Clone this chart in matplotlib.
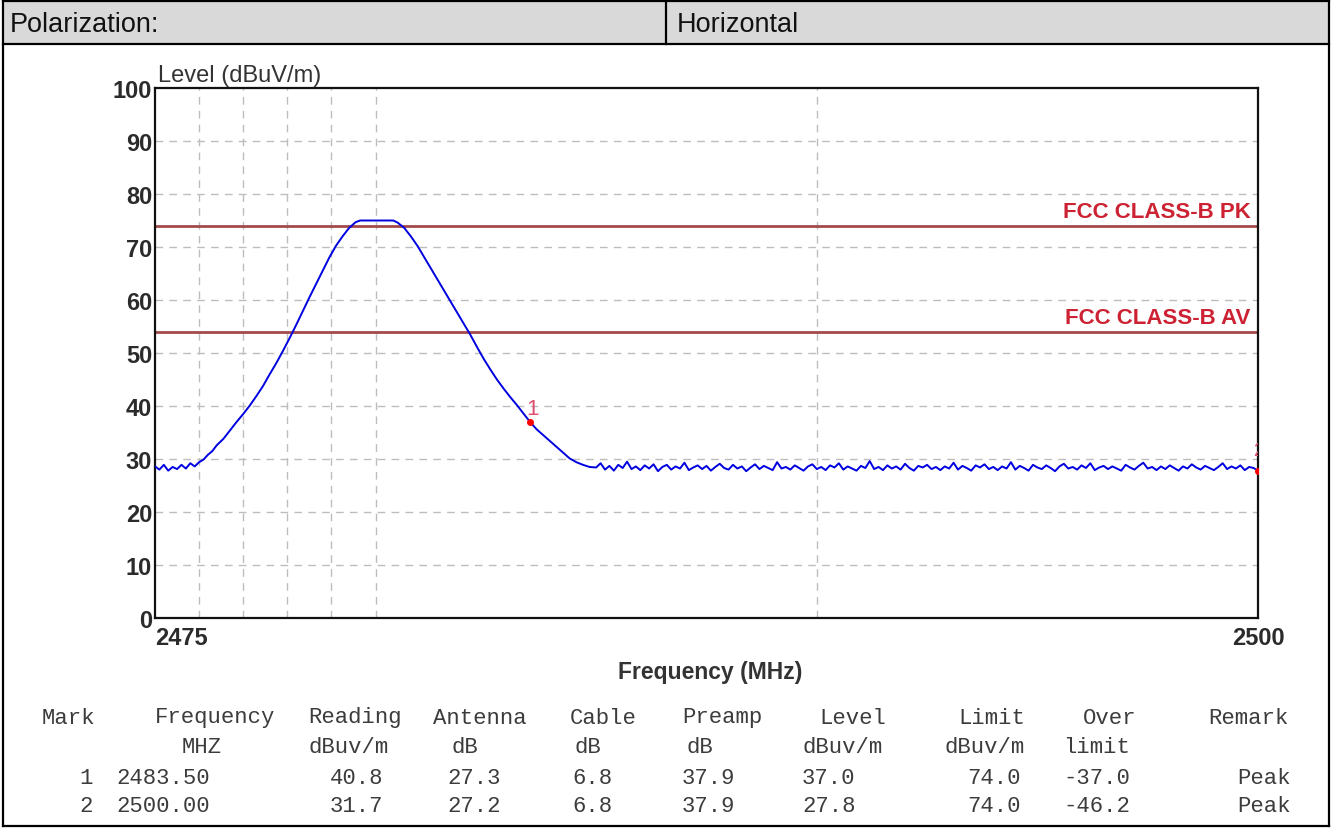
"""Radiated emission plot (band edge, horizontal polarization) with marker table."""

import matplotlib

matplotlib.use("Agg")
import matplotlib.pyplot as plt
import numpy as np
from matplotlib.lines import Line2D
from matplotlib.patches import Rectangle

# --- data ------------------------------------------------------------------
# sweep across the carrier (MHz, dBuV/m)
edge_freq = [
    2475.0, 2475.1, 2475.2, 2475.3, 2475.4, 2475.5, 2475.6, 2475.7, 2475.8, 2475.9,
    2476.0, 2476.1, 2476.2, 2476.3, 2476.4, 2476.55, 2476.7, 2476.85, 2477.0, 2477.15,
    2477.3, 2477.45, 2477.6, 2477.75, 2477.9, 2478.05, 2478.2, 2478.35, 2478.5, 2478.65,
    2478.8, 2478.95, 2479.1, 2479.25, 2479.4, 2479.55, 2479.65, 2480.0, 2480.4, 2480.5,
    2480.65, 2480.8, 2480.95, 2481.1, 2481.25, 2481.4, 2481.55, 2481.7, 2481.85, 2482.0,
    2482.15, 2482.3, 2482.45, 2482.6, 2482.75, 2482.9, 2483.05, 2483.2, 2483.35, 2483.5,
    2483.65, 2483.8, 2483.95, 2484.1, 2484.25, 2484.4, 2484.55, 2484.7, 2484.85,
]
edge_level = [
    28.6, 28.0, 28.9, 27.8, 28.5, 28.1, 28.9, 28.2, 29.2, 28.6,
    29.4, 29.9, 30.8, 31.5, 32.6, 33.8, 35.4, 37.0, 38.5, 40.1,
    41.9, 43.8, 46.0, 48.1, 50.4, 52.8, 55.3, 57.9, 60.5, 63.0,
    65.5, 68.0, 70.2, 72.0, 73.6, 74.7, 75.0, 75.0, 75.0, 74.6,
    73.6, 72.0, 70.2, 68.1, 66.0, 63.9, 61.8, 59.7, 57.6, 55.5,
    53.4, 51.1, 48.9, 46.9, 45.0, 43.3, 41.7, 40.2, 38.6, 37.0,
    35.6, 34.5, 33.4, 32.3, 31.2, 30.1, 29.4, 28.9, 28.5,
]
# noise floor from 2485 MHz to 2500 MHz, 0.1 MHz steps
floor_level = [
    28.4, 29.2, 28.0, 28.7, 27.8, 28.9, 28.3, 29.5, 28.1, 28.6,
    27.9, 28.8, 28.2, 29.0, 27.7, 28.5, 28.9, 28.0, 28.6, 28.2,
    29.3, 27.9, 28.4, 28.8, 28.1, 28.7, 27.8, 28.5, 29.1, 28.3,
    28.0, 28.9, 28.2, 28.6, 27.7, 28.4, 29.0, 28.1, 28.7, 28.3,
    27.9, 29.4, 28.2, 28.5, 28.0, 28.8, 28.3, 27.8, 28.6, 29.0,
    28.1, 28.5, 27.9, 28.8, 28.4, 29.2, 28.0, 28.6, 28.2, 27.8,
    28.7, 28.3, 29.6, 28.1, 28.5, 27.9, 28.8, 28.2, 28.6, 28.0,
    29.1, 28.3, 27.8, 28.7, 28.4, 28.9, 28.1, 28.5, 27.9, 28.6,
    28.2, 29.3, 28.0, 28.7, 28.3, 27.8, 28.8, 28.4, 29.0, 28.1,
    28.5, 27.9, 28.6, 28.2, 29.4, 28.0, 28.7, 28.3, 27.8, 28.9,
    28.4, 28.1, 28.8, 28.3, 27.7, 28.6, 29.1, 28.2, 28.5, 28.0,
    28.8, 28.3, 29.2, 27.9, 28.4, 28.7, 28.1, 28.6, 28.2, 27.8,
    28.9, 28.4, 28.0, 28.7, 29.3, 28.2, 28.5, 27.9, 28.6, 28.1,
    28.8, 28.3, 27.8, 28.6, 28.2, 29.0, 28.4, 28.0, 28.7, 28.3,
    27.9, 28.5, 29.2, 28.1, 28.6, 28.2, 28.8, 27.9, 28.5, 28.3,
    27.8,
]
floor_freq = np.round(2485.0 + 0.1 * np.arange(len(floor_level)), 1)

limit_pk = 74.0
limit_av = 54.0
limit_names = ["FCC CLASS-B PK", "FCC CLASS-B AV"]

mark_ids = ["1", "2"]
mark_freq = [2483.50, 2500.00]
mark_level = [37.0, 27.8]

grid_freq = [2476, 2477, 2478, 2479, 2480, 2490]
grid_level = [10, 20, 30, 40, 50, 60, 70, 80, 90]

table_head = ["Mark", "Frequency", "Reading", "Antenna", "Cable",
              "Preamp", "Level", "Limit", "Over", "Remark"]
table_units = ["", "MHZ", "dBuv/m", "dB", "dB", "dB", "dBuv/m", "dBuv/m", "limit", ""]
reading = ["40.8", "31.7"]
antenna = ["27.3", "27.2"]
cable = ["6.8", "6.8"]
preamp = ["37.9", "37.9"]
level = ["37.0", "27.8"]
limit = ["74.0", "74.0"]
over = ["-37.0", "-46.2"]
remark = ["Peak", "Peak"]

# --- figure ----------------------------------------------------------------
W, H = 1333, 829
fig = plt.figure(figsize=(W / 100, H / 100), dpi=100)


def fx(x):
    return x / W


def fy(y):
    return 1 - y / H


# header band and frame
fig.patches.append(Rectangle((fx(3), fy(45)), fx(1329) - fx(3), fy(2) - fy(45),
                             transform=fig.transFigure, facecolor="#d9d9d9",
                             edgecolor="none", zorder=0))
for x0, y0, x1, y1 in [(3, 2, 1329, 2), (3, 45, 1329, 45), (3, 827, 1329, 827),
                       (3, 2, 3, 827), (1329, 2, 1329, 827), (666, 2, 666, 45)]:
    fig.add_artist(Line2D([fx(x0), fx(x1)], [fy(y0), fy(y1)], color="black",
                          lw=1.6, transform=fig.transFigure))

hdr_font = dict(family="Liberation Sans", fontsize=19.5, color="#111111", va="center")
fig.text(fx(10), fy(25), "Polarization:", **hdr_font)
fig.text(fx(677), fy(25), "Horizontal", **hdr_font)

# plot area
ax = fig.add_axes([fx(155), fy(619), fx(1258) - fx(155), (619 - 89) / H])
ax.set_xlim(2475, 2500)
ax.set_ylim(0, 100)

for f in grid_freq:
    ax.axvline(f, color="#bdbdbd", lw=1, dashes=(5.5, 4.5), zorder=1)
for lv in grid_level:
    ax.axhline(lv, color="#bdbdbd", lw=1, dashes=(5.5, 4.5), zorder=1)

for value, name in zip([limit_pk, limit_av], limit_names):
    ax.axhline(value, color="#a34a4a", lw=2, zorder=2)
    ax.text(2499.83, value + 0.7, name, ha="right", va="bottom", color="#cc2233",
            fontsize=16, fontweight="bold", family="Liberation Sans", zorder=3)

ax.plot(edge_freq + list(floor_freq), edge_level + floor_level,
        color="#0000e0", lw=1.4, zorder=4)
ax.plot(mark_freq, mark_level, "o", color="red", ms=4, zorder=5)
ax.text(mark_freq[0] + 0.05, mark_level[0] + 0.6, mark_ids[0], color="#e0506e",
        ha="center", va="bottom", fontsize=16, family="Liberation Sans", zorder=6)
ax.text(mark_freq[1], mark_level[1] + 2.2, mark_ids[1], color="#e0506e",
        ha="center", va="bottom", fontsize=13, family="Liberation Sans",
        zorder=6, clip_on=True)

for side in ["left", "bottom", "top", "right"]:
    ax.spines[side].set_linewidth(1.6)
    ax.spines[side].set_color("#111111")

tick_font = dict(family="Liberation Sans", fontsize=17, fontweight="bold", color="#2b2b2b")
ax.set_yticks([0, 10, 20, 30, 40, 50, 60, 70, 80, 90, 100])
ax.set_yticklabels([str(v) for v in ax.get_yticks().astype(int)], **tick_font)
ax.set_xticks([2475, 2500])
ax.set_xticklabels(["2475", "2500"], **tick_font)
ax.get_xticklabels()[0].set_ha("left")
ax.tick_params(length=0)
ax.tick_params(axis="y", pad=2)
ax.tick_params(axis="x", pad=6)

ax.text(0.003, 1.004, "Level (dBuV/m)", transform=ax.transAxes, ha="left",
        va="bottom", family="Liberation Sans", fontsize=17, color="#333333")
fig.text(fx(710), fy(673), "Frequency (MHz)", ha="center", va="center",
         family="Liberation Sans", fontsize=16.5, fontweight="bold", color="#333333")

# marker table
mono = dict(family="Liberation Mono", fontsize=16, color="#3c3c3c", va="center")
head_x = [42, 155, 308, 433, 570, 682, 819, 958, 1083, 1208]
unit_x = [0, 182, 308, 452, 574, 686, 802, 944, 1063, 0]
for text, x in zip(table_head, head_x):
    fig.text(fx(x), fy(718), text, **mono)
for text, x in zip(table_units, unit_x):
    if text:
        fig.text(fx(x), fy(748), text, **mono)

value_x = [116, 330, 447, 572, 682, 802, 967, 1063, 1237]
for i, y in enumerate([779, 807]):
    fig.text(fx(93), fy(y), mark_ids[i], ha="right", **mono)
    row = [f"{mark_freq[i]:.2f}", reading[i], antenna[i], cable[i], preamp[i],
           level[i], limit[i], over[i], remark[i]]
    for text, x in zip(row, value_x):
        fig.text(fx(x), fy(y), text, **mono)

fig.savefig("out.png", dpi=100)
